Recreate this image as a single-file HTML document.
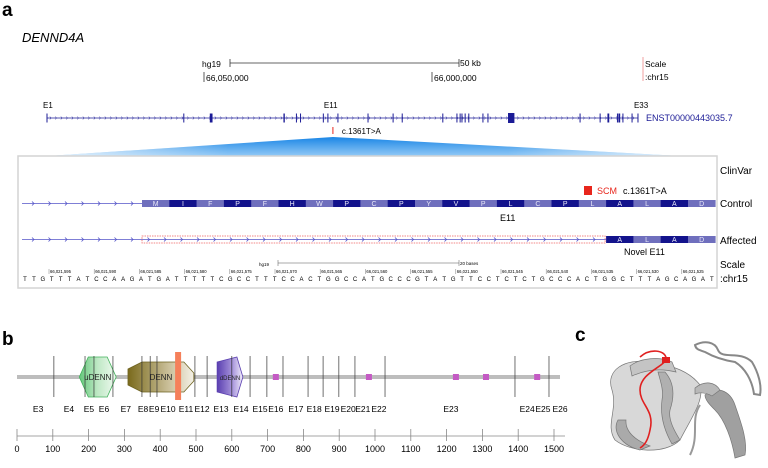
<!DOCTYPE html>
<html><head><meta charset="utf-8"><style>
html,body{margin:0;padding:0;background:#fff;}
svg{display:block;font-family:"Liberation Sans",sans-serif;}
</style></head><body>
<svg id="fig" width="768" height="468" viewBox="0 0 768 468" xmlns="http://www.w3.org/2000/svg">
<defs>
<linearGradient id="zoomGrad" x1="0" y1="0" x2="0" y2="1">
<stop offset="0" stop-color="#1a86e6"/><stop offset="1" stop-color="#9fd0f7"/>
</linearGradient>
<linearGradient id="sideFade" x1="0" y1="0" x2="1" y2="0">
<stop offset="0" stop-color="#fff" stop-opacity="0.9"/><stop offset="0.3" stop-color="#fff" stop-opacity="0"/><stop offset="0.7" stop-color="#fff" stop-opacity="0"/><stop offset="1" stop-color="#fff" stop-opacity="0.9"/>
</linearGradient>
<linearGradient id="dennGrad" x1="0" y1="0" x2="1" y2="0">
<stop offset="0" stop-color="#7a6a1c"/><stop offset="0.6" stop-color="#c8bd96"/><stop offset="1" stop-color="#f4f1e6"/>
</linearGradient>
<linearGradient id="udennGrad" x1="0" y1="0" x2="1" y2="0">
<stop offset="0" stop-color="#63c77a"/><stop offset="0.5" stop-color="#bfe8c5"/><stop offset="1" stop-color="#f0faf1"/>
</linearGradient>
<linearGradient id="ddennGrad" x1="0" y1="0" x2="1" y2="0">
<stop offset="0" stop-color="#5a3fb0"/><stop offset="0.6" stop-color="#a895dc"/><stop offset="1" stop-color="#f2eefb"/>
</linearGradient>
</defs>

<!-- Panel a header -->
<text x="2" y="16" font-size="19" font-weight="bold">a</text>
<text x="22" y="42" font-size="13" font-style="italic">DENND4A</text>
<g>
<text x="202" y="67" font-size="8.5">hg19</text>
<line x1="230" y1="63" x2="459" y2="63" stroke="#333" stroke-width="0.8"/>
<line x1="230" y1="59" x2="230" y2="67" stroke="#333" stroke-width="0.8"/>
<line x1="459" y1="59" x2="459" y2="67" stroke="#333" stroke-width="0.8"/>
<text x="460" y="66" font-size="8.5">50 kb</text>
<line x1="204" y1="72" x2="204" y2="82" stroke="#333" stroke-width="0.8"/>
<text x="206" y="81" font-size="8.5">66,050,000</text>
<line x1="432" y1="72" x2="432" y2="82" stroke="#333" stroke-width="0.8"/>
<text x="434" y="81" font-size="8.5">66,000,000</text>
<line x1="643" y1="57" x2="643" y2="81" stroke="#f2a0a0" stroke-width="1"/>
<text x="645" y="67" font-size="8.5">Scale</text>
<text x="645" y="80" font-size="8.5">:chr15</text>
</g>
<g id="geneTrack"></g>
<polygon points="333,137 18,158 718,158" fill="url(#zoomGrad)"/>
<polygon points="333,137 18,158 718,158" fill="url(#sideFade)"/>

<!-- Zoom box -->
<rect x="18" y="156" width="699" height="132" fill="#fff" stroke="#d4d4d4" stroke-width="1.5"/>
<text x="720" y="174" font-size="10">ClinVar</text>
<text x="720" y="207" font-size="10">Control</text>
<text x="720" y="244" font-size="10">Affected</text>
<text x="720" y="268" font-size="10">Scale</text>
<text x="720" y="282" font-size="10">:chr15</text>
<rect x="584" y="186" width="8" height="9" fill="#e8261c"/>
<text x="597" y="194" font-size="9" fill="#e8261c">SCM</text>
<text x="623" y="194" font-size="9">c.1361T&gt;A</text>
<g id="controlRow"></g>
<text x="500" y="221" font-size="9">E11</text>
<g id="affectedRow"></g>
<text x="624" y="255" font-size="9">Novel E11</text>
<g id="baseScale">
<text x="259" y="266" font-size="4.5">hg19</text>
<line x1="278" y1="263" x2="459" y2="263" stroke="#555" stroke-width="0.5"/>
<line x1="278" y1="260" x2="278" y2="266" stroke="#555" stroke-width="0.5"/>
<line x1="459" y1="260" x2="459" y2="266" stroke="#555" stroke-width="0.5"/>
<text x="460" y="265" font-size="4.5">20 bases</text>
</g>

<!-- Panel b -->
<text x="2" y="345" font-size="19" font-weight="bold">b</text>
<g id="proteinTrack"></g>
<g id="aaAxis"></g>

<!-- Panel c -->
<text x="575" y="341" font-size="19" font-weight="bold">c</text>
<g fill="#c4c4c4" stroke="#777" stroke-width="0.7">
<path d="M612,390 C605,370 625,358 650,362 C675,366 690,372 700,385 C705,400 690,420 680,440 C665,455 630,452 615,440 C605,425 618,410 612,390Z" fill="#d8d8d8"/>
<path d="M630,366 C640,358 660,356 672,362 L676,372 C660,368 645,370 632,376Z"/>
<path d="M665,372 C672,380 676,392 670,410 C668,420 675,432 680,440 L672,444 C664,430 660,415 662,400 C664,390 660,380 658,372Z" fill="#b0b0b0"/>
<path d="M618,420 C612,430 620,445 640,450 L650,446 C635,440 625,432 626,420Z" fill="#aaa"/>
<path d="M705,395 C715,385 730,390 735,405 C740,420 748,440 745,455 L735,458 C732,440 725,420 715,410 C710,405 705,400 705,395Z" fill="#a0a0a0"/>
<path d="M695,388 C705,380 715,382 720,390 L712,396 C705,392 700,392 695,394Z" fill="#b8b8b8"/>
<path d="M695,345 C705,340 715,342 718,350 C722,360 740,350 752,362 C758,372 762,385 760,395 L754,394 C752,380 745,368 735,362 C722,360 712,356 705,352 C700,350 696,350 695,345Z" fill="none" stroke="#888" stroke-width="2"/>
<path d="M700,405 C690,420 700,435 690,455" fill="none" stroke="#999" stroke-width="2"/>
</g>
<path d="M640,357 C650,348 665,350 666,358 C667,366 640,372 640,390 C640,405 655,410 650,430 C648,440 645,445 640,448" fill="none" stroke="#e02020" stroke-width="1.6"/>
<rect x="662" y="357" width="8" height="6" fill="#e02020"/>

<script>
// ---------- data ----------
const geneExonKb = [0,30,36,52,54.7,55.6,60.6,61.6,63.8,70.4,75.9,77.9,86.8,89.9,90.6,91,91.7,92.5,95.6,96.7,101.8,116.9,121.3,123.1,125.1,125.5,126.3,128.3,129.6];
const geneExonWidthBp = [0.2,0.2,0.6,0.3,0.2,0.2,0.2,0.2,0.2,0.2,0.2,0.2,0.2,0.2,0.2,0.2,0.2,0.2,0.2,0.2,1.4,0.2,0.2,0.4,0.2,0.4,0.2,0.2,0.2];
const geneLabels = ["E1","E11","E33"];
const geneLabelKb = [0,61.6,129.6];
const variantKb = 62.7;

const aminoAcids = ["M","I","F","P","F","H","W","P","C","P","Y","V","P","L","C","P","L","A","L","A","D"];
const affectedKeepFrom = 17;
const basePosLabels = ["66,021,595","66,021,590","66,021,585","66,021,580","66,021,575","66,021,570","66,021,565","66,021,560","66,021,555","66,021,550","66,021,545","66,021,540","66,021,535","66,021,530","66,021,525"];
const sequence = "TTGTTTATCCAAGATGATTTTTCGCCTTTCCACTGGCCATGCCCGTATGTTCCTCTCTGCCCACTGGCTTTAGCAGAT";

const exonBoundariesAA = [103,190,215,268,349,372,391,497,531,600,651,698,743,813,855,899,944,1028,1391,1486];
const exonLabelNames = ["E3","E4","E5","E6","E7","E8","E9","E10","E11","E12","E13","E14","E15","E16","E17","E18","E19","E20","E21","E22","E23","E24","E25","E26"];
const exonLabelAA = [59,145,201,243,304,352,383,422,472,517,570,626,679,723,779,830,880,925,966,1011,1212,1425,1469,1517];
const domainNames = ["uDENN","DENN","dDENN"];
const domainStart = [174,310,559];
const domainEnd = [277,494,631];
const motifAA = [723,983,1226,1310,1453];
const mutationAA = 450;
const axisTicks = [0,100,200,300,400,500,600,700,800,900,1000,1100,1200,1300,1400,1500];

// ---------- helpers ----------
const NS = "http://www.w3.org/2000/svg";
function mk(tag, attrs, parent, txt){
  const e = document.createElementNS(NS, tag);
  for (const k in attrs) e.setAttribute(k, attrs[k]);
  if (txt !== undefined) e.textContent = txt;
  parent.appendChild(e);
  return e;
}
const gx = kb => 47 + kb * 4.56;
const px = aa => 17 + aa * 0.358;

// ---------- gene track ----------
const gt = document.getElementById("geneTrack");
mk("line",{x1:gx(0),y1:118,x2:gx(129.6),y2:118,stroke:"#1b1b96","stroke-width":0.8},gt);
for (let x = gx(0)+4; x < gx(129.6); x += 5.5){
  mk("path",{d:`M${x-1.2},116.5 L${x},118 L${x-1.2},119.5`,fill:"none",stroke:"#1b1b96","stroke-width":0.5},gt);
}
geneExonKb.forEach((kb,i)=>{
  const w = Math.max(1, geneExonWidthBp[i]*4.56);
  const h = geneExonWidthBp[i] > 1 ? 10 : 9;
  const r = mk("rect",{x:gx(kb)-w/2,y:118-h/2,width:w,height:h,fill:"#1b1b96"},gt);
  
  
});
geneLabels.forEach((l,i)=>{
  const t = mk("text",{x:gx(geneLabelKb[i])-4,y:108,"font-size":8},gt,l);
  
  
});
const enst = mk("text",{x:646,y:121,"font-size":9,fill:"#1b1b96"},gt,"ENST00000443035.7");


const vm = mk("line",{x1:gx(variantKb),y1:127,x2:gx(variantKb),y2:134,stroke:"#e8261c","stroke-width":1},gt);


const vl = mk("text",{x:gx(variantKb)+9,y:134,"font-size":8},gt,"c.1361T>A");



// ---------- control / affected rows ----------
const barX0 = 142, aaW = 27.3;
function intron(g, y, x1, x2){
  mk("line",{x1:x1,y1:y,x2:x2,y2:y,stroke:"#5555c8","stroke-width":0.8},g);
  for (let x = x1+12; x < x2-2; x += 16.5){
    mk("path",{d:`M${x-2},${y-2} L${x},${y} L${x-2},${y+2}`,fill:"none",stroke:"#5555c8","stroke-width":0.8},g);
  }
}
function aaBoxes(g, y, from){
  for (let i = from; i < aminoAcids.length; i++){
    const x = barX0 + i*aaW;
    const r = mk("rect",{x:x,y:y-3.5,width:aaW+0.3,height:7,fill: i%2===0 ? "#6f6fbd" : "#13138c"},g);
    
    
    mk("text",{x:x+aaW/2,y:y+2.5,"font-size":7,"text-anchor":"middle",fill:"#e8e8f8"},g,aminoAcids[i]);
  }
}
const cr = document.getElementById("controlRow");
intron(cr, 203.5, 22, barX0);
aaBoxes(cr, 203.5, 0);
const ar = document.getElementById("affectedRow");
intron(ar, 239.5, 22, barX0 + affectedKeepFrom*aaW);
const db = mk("rect",{x:barX0,y:236,width:affectedKeepFrom*aaW-1,height:7,fill:"none",stroke:"#f06060","stroke-width":0.8,"stroke-dasharray":"1.5,1"},ar);


aaBoxes(ar, 239.5, affectedKeepFrom);

// ---------- base scale ----------
const bs = document.getElementById("baseScale");
basePosLabels.forEach((l,i)=>{
  const x = 49 + i*45.2;
  mk("line",{x1:x,y1:269,x2:x,y2:274,stroke:"#555","stroke-width":0.4},bs);
  mk("text",{x:x+1,y:273,"font-size":4.2},bs,l);
});
for (let i = 0; i < sequence.length; i++){
  mk("text",{x:25 + i*8.92,y:281,"font-size":6,"text-anchor":"middle"},bs,sequence[i]);
}

// ---------- protein track ----------
const TY = 377;
const pt = document.getElementById("proteinTrack");
mk("line",{x1:px(0),y1:TY,x2:560,y2:TY,stroke:"#bdbdbd","stroke-width":4},pt);
const dFill = ["url(#udennGrad)","url(#dennGrad)","url(#ddennGrad)"];
const dStroke = ["#43b25c","#6e6320","#5a3fb0"];
domainNames.forEach((n,i)=>{
  const a = px(domainStart[i]), b = px(domainEnd[i]);
  const c = (a+b)/2;
  let pts;
  if (i===0) pts = `${a},${TY} ${a+9},${TY-20} ${b-9},${TY-20} ${b},${TY} ${b-9},${TY+20} ${a+9},${TY+20}`;
  else if (i===1) pts = `${a},${TY-8} ${a+14},${TY-15} ${b-10},${TY-15} ${b},${TY-4} ${b},${TY+4} ${b-10},${TY+15} ${a+14},${TY+15} ${a},${TY+8}`;
  else pts = `${a},${TY-15} ${b-6},${TY-20} ${b},${TY} ${b-6},${TY+20} ${a},${TY+15}`;
  const p = mk("polygon",{points:pts,fill:dFill[i],stroke:dStroke[i],"stroke-width":0.8},pt);
  
  
  mk("text",{x:c,y:TY+3,"font-size": i===2 ? 6 : 8,"text-anchor":"middle",fill:"#222"},pt,n);
});
exonBoundariesAA.forEach(aa=>{
  const l = mk("line",{x1:px(aa),y1:356,x2:px(aa),y2:397,stroke:"#333","stroke-width":0.7},pt);
  
  
});
const mut = mk("rect",{x:px(mutationAA)-3,y:352,width:6,height:48,fill:"#f5805a"},pt);


motifAA.forEach(aa=>{
  const r = mk("rect",{x:px(aa)-3,y:TY-3,width:6,height:6,fill:"#c45ac4"},pt);
  
  
});
exonLabelNames.forEach((n,i)=>{
  const t = mk("text",{x:px(exonLabelAA[i]),y:412,"font-size":8.5,"text-anchor":"middle"},pt,n);
  
  
});

// ---------- aa axis ----------
const ax = document.getElementById("aaAxis");
mk("line",{x1:px(0),y1:436,x2:565,y2:436,stroke:"#888","stroke-width":0.8},ax);
axisTicks.forEach(v=>{
  mk("line",{x1:px(v),y1:429,x2:px(v),y2:441,stroke:"#888","stroke-width":0.8},ax);
  const t = mk("text",{x:px(v),y:452,"font-size":9,"text-anchor":"middle"},ax,String(v));
  
  
});
</script>
</svg>
</body></html>
